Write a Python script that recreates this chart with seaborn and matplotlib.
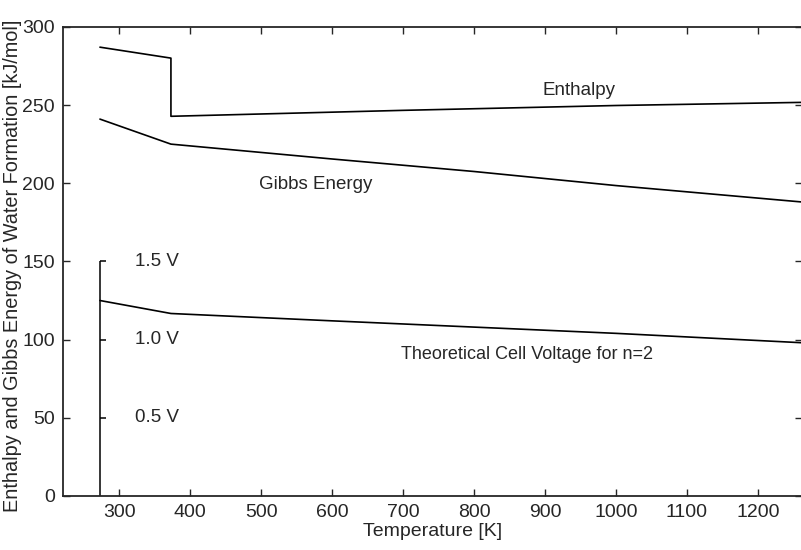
import matplotlib
matplotlib.use("Agg")
import matplotlib.pyplot as plt
import seaborn as sns
import pandas as pd

# ---- data ----
enthalpy_T = [273, 373, 373, 700, 1000, 1262]
enthalpy_H = [287, 280, 242.8, 246.6, 249.7, 251.7]

gibbs_T = [273, 373, 600, 800, 1000, 1262]
gibbs_G = [241, 225, 215.5, 207.5, 198.5, 188]

volt_T = [273, 373, 600, 800, 1000, 1262]
volt_V = [125, 116.7, 112, 108, 104, 98]      # cell voltage * 100

volt_axis_T = 273
volt_tick_vals = [0.5, 1.0, 1.5]
volt_tick_labels = ["0.5 V", "1.0 V", "1.5 V"]

x_ticks = [300, 400, 500, 600, 700, 800, 900, 1000, 1100, 1200]
y_ticks = [0, 50, 100, 150, 200, 250, 300]

sns.set_style("ticks")
plt.rcParams['font.family'] = ['Liberation Sans', 'DejaVu Sans']

fig = plt.figure(figsize=(8.01, 5.5), dpi=100)
ax = fig.add_axes([0.0787, 0.0982, 0.9225, 0.853])

df_h = pd.DataFrame({"T": enthalpy_T, "v": enthalpy_H})
df_g = pd.DataFrame({"T": gibbs_T, "v": gibbs_G})
df_v = pd.DataFrame({"T": volt_T, "v": volt_V})
for d in (df_h, df_g, df_v):
    sns.lineplot(data=d, x="T", y="v", ax=ax, color="black", linewidth=1.2,
                 sort=False, estimator=None)

# secondary voltage axis drawn inside the plot
vmax = max(volt_tick_vals) * 100
ax.vlines(volt_axis_T, 0, vmax, color="black", linewidth=1.1)
for v, lab in zip(volt_tick_vals, volt_tick_labels):
    ax.hlines(v * 100, volt_axis_T, volt_axis_T + 9, color="black", linewidth=1.1)
    ax.text(volt_axis_T + 50, v * 100, lab, fontsize=13.5, va="center", ha="left")

ax.text(948, 259.5, "Enthalpy", fontsize=13.5, ha="center", va="center")
ax.text(577, 199, "Gibbs Energy", fontsize=13.5, ha="center", va="center")
ax.text(875, 90.5, "Theoretical Cell Voltage for n=2", fontsize=13,
        ha="center", va="center")

ax.set_xlim(221, 1262)
ax.set_ylim(0, 300)
ax.set_xticks(x_ticks)
ax.set_yticks(y_ticks)
ax.tick_params(direction="in", top=True, right=True, length=5, width=1,
               labelsize=14, pad=6)
for s in ax.spines.values():
    s.set_linewidth(1.3)
    s.set_visible(True)
ax.set_xlabel("Temperature [K]", fontsize=14, labelpad=1)
ax.set_ylabel("Enthalpy and Gibbs Energy of Water Formation [kJ/mol]",
              fontsize=14.3)
ax.yaxis.set_label_coords(-0.056, 0.49)

fig.savefig("out.png", dpi=100)
